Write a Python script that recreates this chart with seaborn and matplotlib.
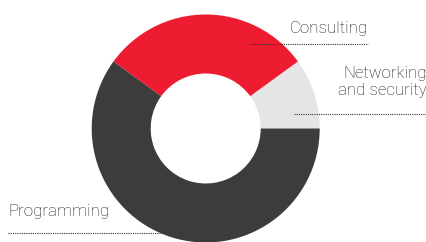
import matplotlib
matplotlib.use("Agg")
import matplotlib.pyplot as plt
import seaborn as sns

# Data
labels = ["Networking\nand security", "Consulting", "Programming"]
shares = [10, 30, 60]
colors = ["#e5e5e5", "#ee1c31", "#3d3b3c"]

sns.set_theme(style="white")
plt.rcParams["font.family"] = ["Roboto", "DejaVu Sans"]

fig = plt.figure(figsize=(4.27, 2.42), dpi=100)
ax = fig.add_axes([0, 0, 1, 1])

# pixel-like coordinates, y measured upward
H = 242
ax.pie(shares, colors=colors, startangle=0, counterclock=True,
       center=(205.7, H - 128.5), radius=114,
       wedgeprops=dict(width=114 - 55, linewidth=0))
ax.set_xlim(0, 427)
ax.set_ylim(0, H)
ax.set_aspect("equal")
ax.axis("off")

txt = dict(fontsize=12.2, fontweight="light", color="#1a1a1a")
line = dict(color="#333333", linewidth=0.8, linestyle=(0, (1, 1)))

# Consulting
ax.text(368, H - 28, labels[1], ha="right", va="center", **txt)
ax.plot([250, 368], [H - 44, H - 44], **line)

# Networking and security
ax.text(427, H - 82, labels[0], ha="right", va="center", linespacing=1.2, **txt)
ax.plot([294, 427], [H - 113.5, H - 113.5], **line)

# Programming
ax.text(8, H - 212, labels[2], ha="left", va="center", **txt)
ax.plot([8, 160], [H - 233, H - 233], **line)

fig.savefig("out.png", dpi=100)
